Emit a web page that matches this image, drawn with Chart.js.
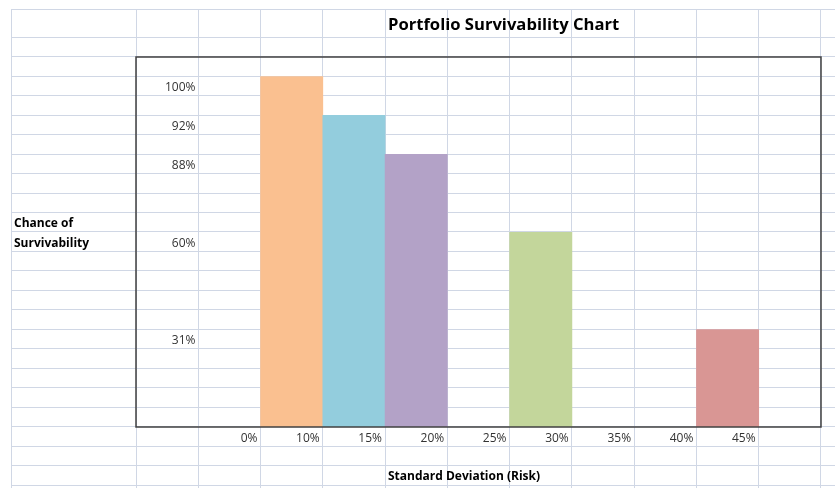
<!DOCTYPE html>
<html>
<head>
<meta charset="utf-8">
<script src="https://cdn.jsdelivr.net/npm/chart.js@4"></script>
<style>
  body { margin: 0; background: #fff; }
  #wrap { position: relative; width: 835px; height: 488px; overflow: hidden; font-family: "Open Sans", sans-serif; }
  #sheet, #chart { position: absolute; left: 0; top: 0; }
  .cell { position: absolute; white-space: nowrap; line-height: 1; color: #000; font-weight: bold; }
</style>
</head>
<body>
<div id="wrap">
  <canvas id="sheet" width="835" height="488"></canvas>
  <canvas id="chart" width="835" height="488"></canvas>
  <div class="cell" style="left:388px; top:16px; font-size:16.6px;">Portfolio Survivability Chart</div>
  <div class="cell" style="left:14px; top:217px; font-size:12px;">Chance of</div>
  <div class="cell" style="left:14px; top:236.6px; font-size:12px;">Survivability</div>
  <div class="cell" style="left:388px; top:470.3px; font-size:12px;">Standard Deviation (Risk)</div>
</div>
<script>
// risk buckets along the bottom (empty cells at both ends)
const riskLabels = ['', '0%', '10%', '15%', '20%', '25%', '30%', '35%', '40%', '45%', ''];
// bar heights as drawn in the chart
const barHeights = [null, null, 90, 80, 70, null, 50, null, null, 25, null];
const barColors = ['#fac090', '#fac090', '#fac090', '#93cddd', '#b3a2c7', '#c3d69b', '#c3d69b', '#c3d69b', '#d99694', '#d99694', '#d99694'];
// survivability labels written next to each bar level
const levelValues = [90, 80, 70, 50, 25];
const levelLabels = ['100%', '92%', '88%', '60%', '31%'];

// spreadsheet grid behind the chart
const sheet = document.getElementById('sheet').getContext('2d');
sheet.strokeStyle = '#d0d7e5';
sheet.lineWidth = 1;
const colX = [11.7];
for (let x = 136.2; x < 835; x += 62.25) colX.push(x);
const rowY = [9.3];
for (let y = 37.3; y < 488; y += 19.47) rowY.push(y);
colX.forEach(function(x) {
    sheet.beginPath();
    sheet.moveTo(Math.floor(x) + 0.5, 9);
    sheet.lineTo(Math.floor(x) + 0.5, 488);
    sheet.stroke();
});
rowY.forEach(function(y) {
    sheet.beginPath();
    sheet.moveTo(11, Math.floor(y) + 0.5);
    sheet.lineTo(835, Math.floor(y) + 0.5);
    sheet.stroke();
});

// black frame round the plot area
const plotFrame = {
    id: 'plotFrame',
    afterDatasetsDraw(chart) {
        const a = chart.chartArea;
        const ctx = chart.ctx;
        ctx.save();
        ctx.strokeStyle = '#404040';
        ctx.lineWidth = 1.5;
        ctx.strokeRect(a.left, a.top, a.right - a.left, a.bottom - a.top);
        ctx.restore();
    }
};

new Chart(document.getElementById('chart'), {
    type: 'bar',
    data: {
        labels: riskLabels,
        datasets: [{
            data: barHeights,
            backgroundColor: barColors,
            borderWidth: 0,
            categoryPercentage: 1,
            barPercentage: 1
        }]
    },
    options: {
        responsive: false,
        animation: false,
        devicePixelRatio: 1,
        layout: { padding: { left: 136, right: 14, top: 57, bottom: 31 } },
        plugins: { legend: { display: false }, tooltip: { enabled: false } },
        scales: {
            x: {
                grid: { display: false, drawTicks: false },
                border: { display: false },
                afterFit: function(scale) { scale.height = 30; },
                ticks: {
                    autoSkip: false,
                    maxRotation: 0,
                    align: 'end',
                    labelOffset: 28,
                    padding: 4,
                    color: '#333',
                    font: { family: 'Open Sans', size: 12 }
                }
            },
            y: {
                min: 0,
                max: 95,
                grid: { display: false, drawTicks: false },
                border: { display: false },
                afterFit: function(scale) { scale.width = 0; },
                afterBuildTicks: function(scale) {
                    scale.ticks = levelValues.map(function(v) { return { value: v }; });
                },
                ticks: {
                    mirror: true,
                    crossAlign: 'far',
                    padding: 29,
                    labelOffset: 11,
                    color: '#333',
                    font: { family: 'Open Sans', size: 12 },
                    callback: function(value) {
                        const i = levelValues.indexOf(value);
                        return i >= 0 ? levelLabels[i] : '';
                    }
                }
            }
        }
    },
    plugins: [plotFrame]
});
</script>
</body>
</html>
